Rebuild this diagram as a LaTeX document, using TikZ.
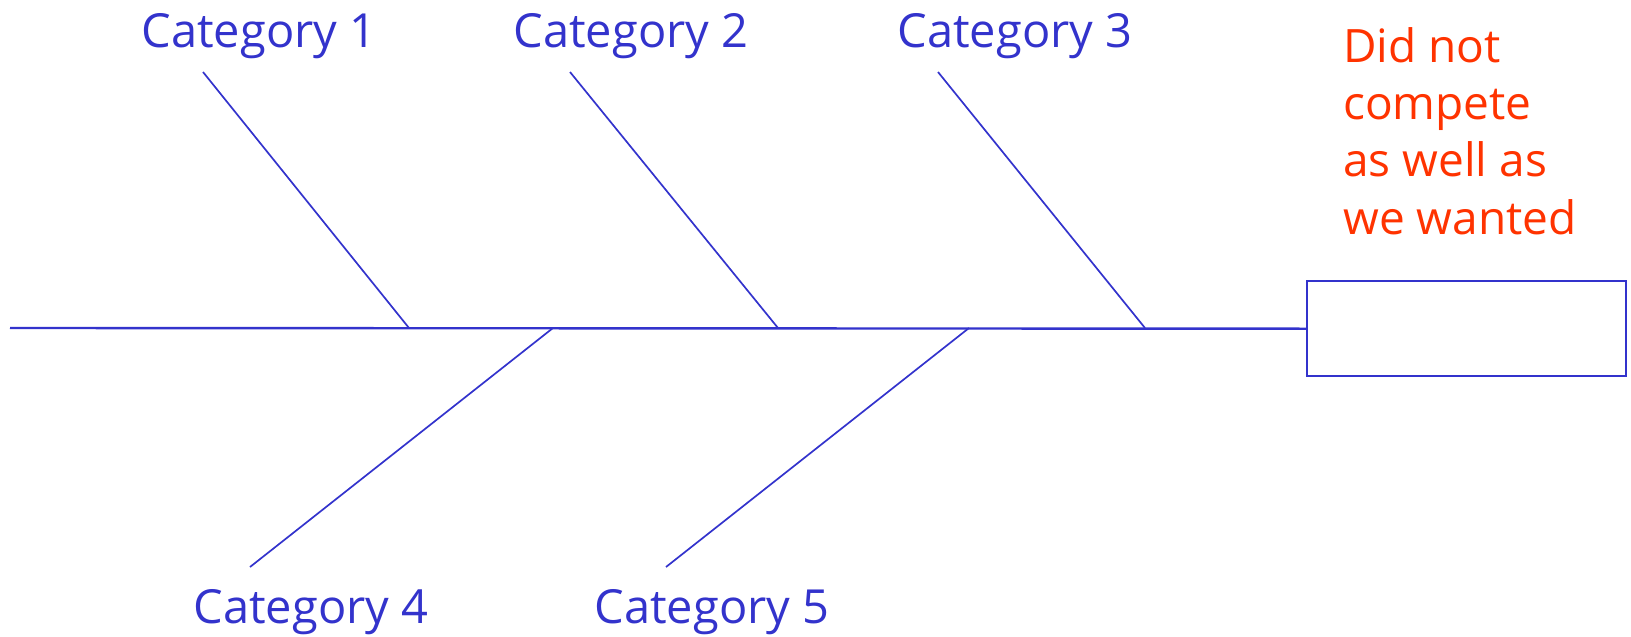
\documentclass[tikz,border=0pt]{standalone}
\usepackage{fontspec}
\setmainfont{Open Sans}
\definecolor{boneblue}{HTML}{3333CC}
\definecolor{effred}{HTML}{FF3300}
\begin{document}
\begin{tikzpicture}[x=1pt,y=-1pt,
  bone/.style={draw=boneblue,line width=1.7pt},
  spine/.style={draw=boneblue,line width=2.4pt},
  cat/.style={text=boneblue,anchor=base,inner sep=0pt,font=\fontsize{47}{56}\selectfont},
  effect/.style={text=effred,anchor=north west,inner sep=0pt,align=left,font=\fontsize{46}{57.3}\selectfont},
  headbox/.style={draw=boneblue,line width=2.4pt,minimum width=319pt,minimum height=95pt,inner sep=0pt}]
\useasboundingbox (0,0) rectangle (1631,637);
% spine
\coordinate (tail) at (10,328);
\node[headbox,anchor=north west] (head) at (1306,280) {};
\draw[spine] (tail) -- (head.west);
% bone junctions on spine
\coordinate (j1) at (409,328);
\coordinate (j2) at (778,328);
\coordinate (j3) at (1145,328);
\coordinate (j4) at (553,328);
\coordinate (j5) at (969,328);
% bone free ends
\coordinate (e1) at (203,72);
\coordinate (e2) at (570,72);
\coordinate (e3) at (938,72);
\coordinate (e4) at (250,567);
\coordinate (e5) at (666,567);
\draw[bone] (e1) -- (j1);
\draw[bone] (e2) -- (j2);
\draw[bone] (e3) -- (j3);
\draw[bone] (e4) -- (j4);
\draw[bone] (e5) -- (j5);
% labels
\node[cat] (c1) at (259,47) {Category 1};
\node[cat] (c2) at (631,47) {Category 2};
\node[cat] (c3) at (1015,47) {Category 3};
\node[cat] (c4) at (311,623) {Category 4};
\node[cat] (c5) at (712,623) {Category 5};
\node[effect] (eff) at (1343,27) {Did not\\compete\\as well as\\we wanted};
\end{tikzpicture}
\end{document}
